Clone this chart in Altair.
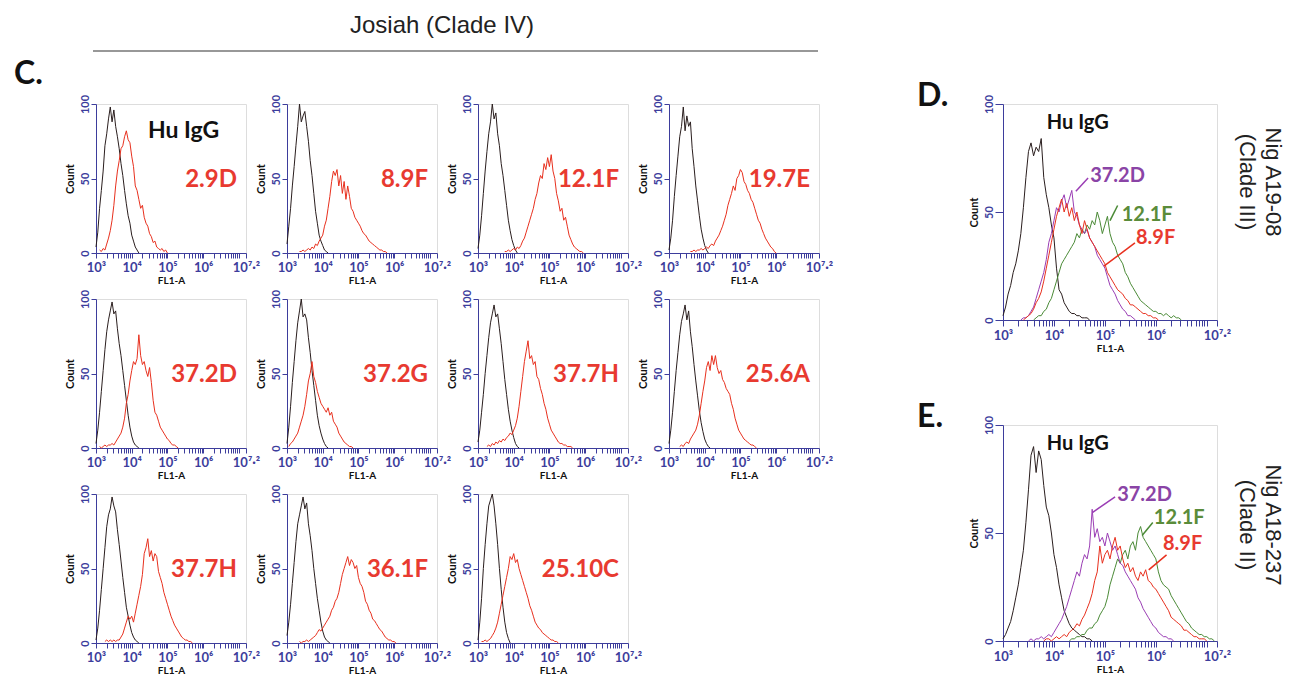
import math
import altair as alt
import pandas as pd

STEP = 0.05  # spacing (log10 units) of the values typed below

# ---------------- panel C (Josiah, clade IV) ----------------
c_labels = ["2.9D", "8.9F", "12.1F", "19.7E", "37.2D", "37.2G", "37.7H", "25.6A", "37.7H", "36.1F", "25.10C"]

c1_black_x0 = 3.0
c1_black = [4, 14, 30, 42, 55, 72, 80, 90, 98, 88, 96, 85, 78, 70, 60, 52, 42, 33, 25, 20, 12, 8, 4, 2, 0]
c1_red_x0 = 3.1
c1_red = [2, 1, 3, 2, 6, 10, 15, 22, 32, 45, 55, 62, 70, 72, 78, 82, 76, 74, 65, 58, 45, 42, 36, 30, 32, 24, 20, 18, 13, 11, 7, 8, 4, 3, 2, 3, 1, 2, 0]

c2_black_x0 = 3.0
c2_black = [6, 18, 30, 45, 58, 72, 85, 100, 88, 92, 95, 85, 75, 62, 52, 40, 28, 20, 12, 8, 5, 2, 1, 0]
c2_red_x0 = 3.35
c2_red = [1, 1, 2, 1, 2, 3, 2, 4, 3, 6, 5, 8, 10, 12, 18, 22, 30, 38, 48, 55, 52, 56, 45, 52, 40, 48, 36, 45, 38, 30, 28, 24, 22, 20, 18, 15, 13, 12, 10, 8, 7, 6, 5, 4, 3, 2, 2, 1, 1, 0]

c3_black_x0 = 3.0
c3_black = [3, 12, 25, 40, 55, 68, 80, 88, 100, 90, 94, 80, 72, 60, 52, 42, 32, 22, 15, 9, 5, 2, 0]
c3_red_x0 = 3.75
c3_red = [1, 1, 2, 1, 2, 3, 2, 4, 3, 5, 8, 10, 14, 18, 22, 26, 30, 36, 40, 47, 52, 50, 60, 56, 64, 58, 66, 55, 50, 40, 35, 28, 30, 22, 24, 18, 12, 9, 6, 4, 3, 2, 1, 1, 0]

c4_black_x0 = 3.0
c4_black = [2, 10, 22, 38, 52, 65, 78, 85, 98, 82, 92, 85, 88, 70, 58, 45, 35, 25, 16, 10, 5, 2, 0]
c4_red_x0 = 3.6
c4_red = [1, 1, 2, 1, 2, 2, 3, 2, 3, 4, 3, 5, 6, 5, 8, 10, 12, 15, 18, 22, 26, 32, 36, 40, 45, 42, 50, 52, 56, 54, 48, 46, 42, 40, 36, 34, 30, 26, 22, 20, 16, 13, 10, 8, 6, 4, 3, 1, 0]

c5_black_x0 = 3.0
c5_black = [3, 12, 24, 38, 52, 66, 78, 86, 92, 98, 90, 92, 80, 70, 62, 52, 42, 32, 22, 14, 8, 4, 2, 1, 0]
c5_red_x0 = 3.1
c5_red = [1, 0, 1, 2, 1, 2, 2, 3, 2, 4, 6, 8, 10, 14, 20, 30, 36, 45, 52, 58, 56, 60, 76, 62, 56, 58, 52, 48, 54, 44, 32, 24, 22, 18, 14, 12, 10, 8, 6, 5, 3, 2, 2, 1, 0]

c6_black_x0 = 3.0
c6_black = [3, 14, 28, 44, 58, 72, 84, 92, 100, 88, 90, 86, 74, 64, 52, 42, 32, 22, 15, 10, 6, 3, 1, 0]
c6_red_x0 = 3.05
c6_red = [1, 3, 4, 6, 8, 10, 14, 18, 22, 28, 36, 45, 50, 58, 48, 44, 38, 34, 30, 28, 26, 24, 27, 22, 24, 18, 16, 14, 10, 8, 6, 4, 3, 2, 1, 1, 0]

c7_black_x0 = 3.0
c7_black = [4, 12, 24, 36, 50, 62, 74, 84, 90, 96, 88, 90, 80, 70, 58, 46, 36, 26, 18, 12, 7, 3, 1, 0]
c7_red_x0 = 3.25
c7_red = [1, 2, 1, 3, 2, 4, 3, 5, 4, 6, 5, 7, 8, 10, 9, 12, 15, 20, 28, 38, 48, 58, 65, 72, 60, 62, 56, 58, 48, 46, 40, 36, 30, 26, 20, 16, 12, 10, 8, 6, 4, 3, 3, 2, 2, 1, 1, 1, 0]

c8_black_x0 = 3.0
c8_black = [3, 12, 24, 38, 52, 64, 76, 85, 90, 96, 86, 92, 78, 68, 56, 45, 35, 25, 17, 11, 6, 3, 1, 0]
c8_red_x0 = 3.3
c8_red = [1, 2, 1, 3, 4, 3, 6, 8, 10, 12, 16, 22, 30, 38, 45, 54, 58, 52, 62, 56, 62, 54, 50, 52, 46, 44, 40, 38, 36, 30, 26, 20, 16, 12, 10, 8, 6, 5, 4, 3, 2, 2, 1, 0]

c9_black_x0 = 3.0
c9_black = [2, 10, 22, 36, 50, 64, 78, 86, 90, 98, 92, 88, 76, 66, 55, 44, 34, 24, 18, 12, 7, 4, 2, 1, 0]
c9_red_x0 = 3.25
c9_red = [1, 2, 1, 2, 1, 2, 1, 2, 2, 4, 6, 10, 14, 18, 16, 18, 14, 20, 26, 32, 38, 46, 60, 64, 70, 58, 62, 55, 60, 58, 48, 44, 40, 34, 30, 26, 22, 18, 15, 12, 10, 8, 6, 4, 3, 2, 2, 1, 1, 0]

c10_black_x0 = 3.0
c10_black = [5, 14, 26, 40, 54, 68, 80, 86, 92, 98, 90, 94, 80, 72, 62, 50, 40, 30, 22, 14, 8, 4, 2, 1, 0]
c10_red_x0 = 3.35
c10_red = [1, 0, 1, 1, 2, 1, 2, 3, 4, 5, 7, 9, 8, 10, 12, 14, 16, 18, 22, 24, 28, 30, 34, 40, 46, 50, 54, 58, 52, 56, 54, 50, 52, 44, 40, 38, 34, 28, 26, 22, 20, 16, 15, 13, 11, 9, 8, 6, 4, 3, 2, 2, 1, 1, 0]

c11_black_x0 = 3.0
c11_black = [2, 14, 30, 50, 66, 80, 92, 96, 100, 92, 80, 66, 50, 36, 24, 14, 7, 3, 0]
c11_red_x0 = 3.1
c11_red = [1, 1, 2, 1, 2, 3, 5, 7, 10, 14, 20, 26, 32, 38, 44, 50, 58, 56, 60, 54, 56, 50, 46, 42, 38, 34, 30, 25, 22, 18, 14, 12, 10, 9, 7, 6, 5, 4, 3, 2, 2, 1, 1, 0]

# ---------------- panel D (Nig A19-08, clade III) ----------------
d_black_x0 = 3.0
d_black = [2, 6, 12, 16, 22, 26, 32, 40, 52, 66, 78, 82, 76, 80, 78, 84, 66, 58, 52, 44, 38, 24, 14, 12, 8, 6, 4, 3, 3, 2, 2, 1, 1, 1, 0]
d_purple_x0 = 3.35
d_purple = [0, 1, 1, 2, 4, 6, 10, 14, 18, 22, 28, 36, 40, 46, 52, 50, 55, 58, 52, 56, 60, 50, 48, 44, 42, 40, 42, 38, 36, 34, 30, 28, 26, 24, 20, 16, 14, 12, 9, 7, 5, 4, 2, 2, 1, 0]
d_red_x0 = 3.4
d_red = [0, 1, 2, 3, 5, 8, 10, 13, 18, 24, 30, 36, 42, 48, 52, 56, 50, 54, 48, 52, 46, 50, 44, 40, 46, 42, 38, 36, 34, 32, 30, 28, 26, 22, 20, 18, 16, 14, 13, 12, 10, 9, 7, 7, 6, 5, 4, 3, 3, 2, 2, 1, 1, 0]
d_green_x0 = 3.6
d_green = [0, 1, 2, 2, 4, 5, 8, 10, 14, 18, 22, 26, 28, 30, 32, 34, 36, 40, 38, 42, 40, 44, 42, 46, 44, 50, 46, 40, 44, 48, 40, 36, 34, 30, 28, 26, 22, 20, 17, 15, 13, 11, 9, 8, 7, 6, 5, 4, 4, 3, 3, 2, 3, 2, 1, 2, 1, 1, 0]

# ---------------- panel E (Nig A18-237, clade II) ----------------
e_black_x0 = 3.0
e_black = [1, 3, 6, 9, 14, 20, 26, 34, 42, 55, 70, 86, 90, 78, 88, 84, 72, 62, 58, 50, 40, 34, 26, 20, 14, 11, 8, 6, 5, 4, 3, 2, 2, 1, 1, 0]
e_purple_x0 = 3.5
e_purple = [0, 1, 0, 1, 1, 2, 1, 2, 3, 2, 4, 6, 8, 10, 13, 16, 20, 24, 28, 32, 30, 36, 40, 38, 44, 61, 48, 52, 46, 48, 44, 50, 46, 42, 44, 40, 36, 35, 32, 30, 28, 26, 24, 20, 18, 15, 13, 11, 9, 7, 6, 4, 3, 2, 2, 1, 1, 0]
e_red_x0 = 3.8
e_red = [0, 1, 1, 0, 1, 2, 1, 2, 3, 2, 4, 5, 6, 8, 7, 10, 12, 15, 18, 22, 28, 32, 44, 36, 40, 42, 38, 44, 48, 42, 44, 38, 34, 36, 32, 34, 30, 28, 32, 30, 33, 28, 27, 25, 24, 22, 20, 18, 16, 14, 11, 10, 9, 8, 7, 5, 5, 4, 3, 2, 2, 1, 1, 1, 0]
e_green_x0 = 4.3
e_green = [0, 1, 1, 2, 2, 3, 3, 5, 6, 6, 8, 9, 12, 14, 16, 20, 26, 30, 34, 38, 36, 40, 42, 38, 44, 46, 42, 50, 53, 48, 46, 44, 42, 40, 38, 32, 28, 26, 25, 24, 21, 19, 17, 15, 13, 11, 9, 8, 6, 5, 4, 3, 3, 2, 2, 1, 1, 0]

# annotation texts in D / E (x in log10 units, y in counts)
d_ann_text = ["37.2D", "12.1F", "8.9F"]
d_ann_x = [4.71, 5.33, 5.61]
d_ann_y = [66.7, 48.4, 38.0]
d_lead_x = [4.43, 5.10, 4.98]
d_lead_y = [59.6, 46.0, 24.9]
d_lead_x2 = [4.67, 5.25, 5.59]
d_lead_y2 = [65.7, 53.0, 35.7]

e_ann_text = ["37.2D", "12.1F", "8.9F"]
e_ann_x = [5.24, 5.96, 6.14]
e_ann_y = [67.6, 56.8, 45.0]
e_lead_x = [4.76, 5.73, 5.86]
e_lead_y = [59.6, 48.8, 32.9]
e_lead_x2 = [5.20, 5.94, 6.21]
e_lead_y2 = [66.7, 54.9, 39.9]

# axis ticks / labels
x_major = [3, 4, 5, 6, 7.2]
x_major_labels = ["10³", "10⁴", "10⁵", "10⁶", "10⁷·²"]
x_minor_mult = [2, 3, 4, 5, 6, 7, 8, 9]
y_ticks = [0, 50, 100]

# ---------------- styling ----------------
AXC = "#3d3d9c"
BLACK = "#2a1e1e"
RED = "#e8301e"
RED_LBL = "#e83a30"
PURPLE = "#9a3db4"
PURPLE_LBL = "#8a44a6"
GREEN = "#4a8a36"
GREEN_LBL = "#5a8c3a"
FONT = "Lato"
HEAD = "Josiah (Clade IV)"
HEAD_SIZE = 24

x_minor = [d + math.log10(k) for d in (3, 4, 5, 6) for k in x_minor_mult] + [7.0]
label_expr = " : ".join(
    f"datum.value == {v} ? '{t}'" for v, t in zip(x_major, x_major_labels)
) + " : ''"

xscale = alt.Scale(domain=[3, 7.2], nice=False, zero=False)
yscale = alt.Scale(domain=[0, 100], nice=False)


def make_xaxis(tick):
    return alt.Axis(values=x_major + x_minor, labelExpr=label_expr, title="FL1-A",
                    titleFont=FONT, titleFontSize=10, titleFontWeight="bold", titleColor="#111",
                    titlePadding=1, labelFont=FONT, labelFontSize=13, labelFontWeight="bold",
                    labelColor=AXC, domainColor=AXC, tickColor=AXC, tickSize=tick,
                    labelPadding=3, labelFlush=False, labelOverlap=False, grid=False)


def make_yaxis(tick):
    return alt.Axis(values=y_ticks, title="Count", titleFont=FONT, titleFontSize=11,
                    titleFontWeight="bold", titleColor="#111", titlePadding=4,
                    labelFont=FONT, labelFontSize=11, labelFontWeight="bold", labelColor=AXC,
                    labelAngle=-90, labelAlign="center", labelBaseline="bottom",
                    domainColor=AXC, tickColor=AXC, tickSize=tick, labelPadding=1,
                    labelFlush=False, labelOverlap=False, grid=False)


def series_df(x0, vals):
    return pd.DataFrame({"x": [round(x0 + i * STEP, 3) for i in range(len(vals))], "y": vals})


def line(df, color, X, Y, width=1.0):
    return alt.Chart(df).mark_line(color=color, strokeWidth=width).encode(x=X, y=Y)


def text_px(t, x, y, size, color, align="left", weight="bold", font=FONT, angle=0, opacity=1):
    kw = dict(fontSize=size, color=color, align=align, baseline="middle", font=font, fontWeight=weight)
    if angle:
        kw["angle"] = angle
    if opacity != 1:
        kw["opacity"] = opacity
    return alt.Chart(pd.DataFrame({"t": [t]})).mark_text(**kw).encode(
        text="t:N", x=alt.value(x), y=alt.value(y))


SW, SH = 150, 149
HEAD_Y = -78
c_data = [
    (c1_black_x0, c1_black, c1_red_x0, c1_red), (c2_black_x0, c2_black, c2_red_x0, c2_red),
    (c3_black_x0, c3_black, c3_red_x0, c3_red), (c4_black_x0, c4_black, c4_red_x0, c4_red),
    (c5_black_x0, c5_black, c5_red_x0, c5_red), (c6_black_x0, c6_black, c6_red_x0, c6_red),
    (c7_black_x0, c7_black, c7_red_x0, c7_red), (c8_black_x0, c8_black, c8_red_x0, c8_red),
    (c9_black_x0, c9_black, c9_red_x0, c9_red), (c10_black_x0, c10_black, c10_red_x0, c10_red),
    (c11_black_x0, c11_black, c11_red_x0, c11_red),
]


def small_panel(i):
    bx0, bv, rx0, rv = c_data[i]
    X = alt.X("x:Q", scale=xscale, axis=make_xaxis(5))
    Y = alt.Y("y:Q", scale=yscale, axis=make_yaxis(5))
    layers = [line(series_df(bx0, bv), BLACK, X, Y), line(series_df(rx0, rv), RED, X, Y),
              text_px(c_labels[i], SW - 9, 76, 24, RED_LBL, align="right")]
    if i == 0:
        layers += [
            text_px("Hu IgG", 52, 27, 23, "#111"),
            text_px("C.", -82, -30, 32, "#111"),
            text_px(HEAD, 346, HEAD_Y, HEAD_SIZE, "#222", align="center",
                    weight="normal", font="Liberation Sans"),
            alt.Chart(pd.DataFrame({"a": [0]})).mark_rule(color="#333", strokeWidth=1.2).encode(
                x=alt.value(-3), x2=alt.value(722), y=alt.value(-53)),
        ]
    return alt.layer(*layers).properties(width=SW, height=SH)


BW, BH = 214, 216


def big_panel(series, ann_text, ann_x, ann_y, lx, ly, lx2, ly2, letter, title_lines, title_y, top=False):
    X = alt.X("x:Q", scale=xscale, axis=make_xaxis(6))
    Y = alt.Y("y:Q", scale=yscale, axis=make_yaxis(8))
    layers = [line(series_df(x0, v), col, X, Y) for x0, v, col in series]
    cols = [PURPLE_LBL, GREEN_LBL, RED_LBL]
    lead_cols = [PURPLE, GREEN, RED]
    for k in range(3):
        layers.append(alt.Chart(pd.DataFrame({"x": [lx[k]], "y": [ly[k]], "x2": [lx2[k]], "y2": [ly2[k]]}))
                      .mark_rule(color=lead_cols[k], strokeWidth=1.5)
                      .encode(x=X, y=Y, x2="x2:Q", y2="y2:Q"))
        layers.append(alt.Chart(pd.DataFrame({"x": [ann_x[k]], "y": [ann_y[k]], "t": [ann_text[k]]}))
                      .mark_text(align="left", baseline="middle", font=FONT, fontWeight="bold",
                                 fontSize=20, color=cols[k])
                      .encode(x=X, y=Y, text="t:N"))
    layers.append(alt.Chart(pd.DataFrame({"x": [3.86], "y": [91], "t": ["Hu IgG"]}))
                  .mark_text(align="left", baseline="middle", font=FONT, fontWeight="bold",
                             fontSize=20, color="#111").encode(x=X, y=Y, text="t:N"))
    layers.append(text_px(letter, -86, -8, 32, "#111"))
    layers.append(text_px(title_lines[0], BW + 56, title_y, 22, "#222", align="center",
                          weight="normal", font="Liberation Sans", angle=90))
    layers.append(text_px(title_lines[1], BW + 30, title_y, 22, "#222", align="center",
                          weight="normal", font="Liberation Sans", angle=90))
    if top:
        # invisible copy of the header, so that this column's top lines up with panel C's
        layers.append(text_px(HEAD, BW / 2, HEAD_Y, HEAD_SIZE, "#ffffff", align="center",
                              weight="normal", font="Liberation Sans", opacity=0))
    return alt.layer(*layers).properties(width=BW, height=BH)


grid = alt.concat(*[small_panel(i) for i in range(11)], columns=4,
                  spacing={"row": 46, "column": 41}, bounds="flush")

panel_d = big_panel(
    [(d_black_x0, d_black, BLACK), (d_green_x0, d_green, GREEN),
     (d_purple_x0, d_purple, PURPLE), (d_red_x0, d_red, RED)],
    d_ann_text, d_ann_x, d_ann_y, d_lead_x, d_lead_y, d_lead_x2, d_lead_y2,
    "D.", ["Nig A19-08", "(Clade III)"], 78, top=True)
panel_e = big_panel(
    [(e_black_x0, e_black, BLACK), (e_green_x0, e_green, GREEN),
     (e_purple_x0, e_purple, PURPLE), (e_red_x0, e_red, RED)],
    e_ann_text, e_ann_x, e_ann_y, e_lead_x, e_lead_y, e_lead_x2, e_lead_y2,
    "E.", ["Nig A18-237", "(Clade II)"], 100)
right = alt.vconcat(panel_d, panel_e, spacing=105, bounds="flush")

chart = alt.hconcat(grid, right, spacing=82).configure_view(
    stroke=AXC, strokeWidth=1.3
).configure(background="white")

chart.save("out.html", embed_options={"renderer": "svg", "actions": False})
